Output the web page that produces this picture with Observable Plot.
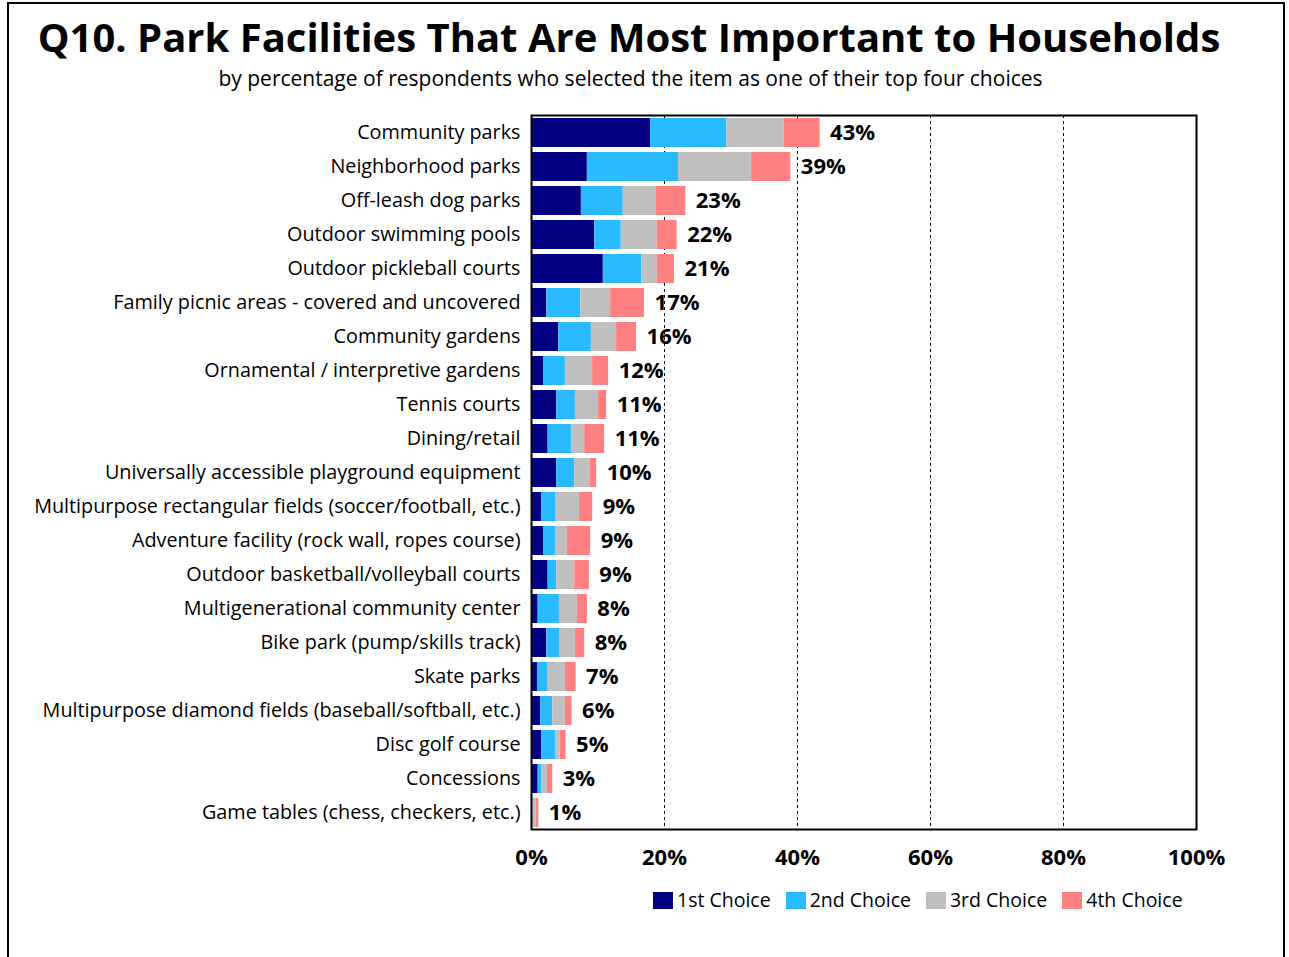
<!DOCTYPE html>
<html>
<head>
<meta charset="utf-8">
<script src="https://cdn.jsdelivr.net/npm/d3@7"></script>
<script src="https://cdn.jsdelivr.net/npm/@observablehq/plot@0.6"></script>
<style>
  html, body { margin: 0; padding: 0; background: #fff; }
  #wrap { position: relative; width: 1289px; height: 957px; overflow: hidden; font-family: "Open Sans", Lato, sans-serif; }
  #border { position: absolute; left: 7px; top: 2px; width: 1278px; height: 1000px; border: 2px solid #000; border-bottom: none; box-sizing: border-box; }
  #title { position: absolute; left: 0; width: 1258px; top: 9px; text-align: center; font-weight: 700; font-size: 40px; line-height: 56px; color: #000; white-space: nowrap; }
  #subtitle { position: absolute; left: 0; width: 1261px; top: 64px; text-align: center; font-size: 21px; line-height: 28px; color: #000; white-space: nowrap; }
  #chart { position: absolute; left: 0; top: 0; }
  #legend { position: absolute; top: 886px; left: 653px; display: flex; align-items: center; font-size: 19.5px; line-height: 28px; color: #000; white-space: nowrap; }
  .item { display: flex; align-items: center; margin-right: 15px; }
  .sw { width: 20px; height: 17px; margin-right: 4px; }
</style>
</head>
<body>
<div id="wrap">
  <div id="border"></div>
  <div id="title">Q10. Park Facilities That Are Most Important to Households</div>
  <div id="subtitle">by percentage of respondents who selected the item as one of their top four choices</div>
  <div id="chart"></div>
  <div id="legend"></div>
</div>
<script>
const facilities = [
  "Community parks",
  "Neighborhood parks",
  "Off-leash dog parks",
  "Outdoor swimming pools",
  "Outdoor pickleball courts",
  "Family picnic areas - covered and uncovered",
  "Community gardens",
  "Ornamental / interpretive gardens",
  "Tennis courts",
  "Dining/retail",
  "Universally accessible playground equipment",
  "Multipurpose rectangular fields (soccer/football, etc.)",
  "Adventure facility (rock wall, ropes course)",
  "Outdoor basketball/volleyball courts",
  "Multigenerational community center",
  "Bike park (pump/skills track)",
  "Skate parks",
  "Multipurpose diamond fields (baseball/softball, etc.)",
  "Disc golf course",
  "Concessions",
  "Game tables (chess, checkers, etc.)"
];
const choices = ["1st Choice", "2nd Choice", "3rd Choice", "4th Choice"];
const colors = ["#000080", "#29BAFF", "#BFBFBF", "#FF8080"];
const first  = [17.9, 8.4, 7.5, 9.5, 10.8, 2.3, 4.1, 1.8, 3.8, 2.5, 3.8, 1.5, 1.8, 2.5, 1.0, 2.3, 0.9, 1.4, 1.5, 1.0, 0.1];
const second = [11.5, 13.7, 6.3, 4.0, 5.8, 5.1, 4.9, 3.3, 2.8, 3.5, 2.7, 2.2, 1.8, 1.3, 3.2, 2.0, 1.5, 1.8, 2.1, 0.5, 0.1];
const third  = [8.6, 11.0, 4.9, 5.4, 2.3, 4.5, 3.8, 4.1, 3.5, 2.0, 2.3, 3.5, 1.8, 2.7, 2.7, 2.3, 2.7, 1.9, 0.7, 0.9, 0.5];
const fourth = [5.4, 5.9, 4.5, 3.0, 2.6, 5.1, 3.0, 2.4, 1.2, 3.0, 1.0, 2.0, 3.5, 2.2, 1.5, 1.4, 1.6, 1.0, 0.9, 0.8, 0.4];
const totalLabels = [43, 39, 23, 22, 21, 17, 16, 12, 11, 11, 10, 9, 9, 9, 8, 8, 7, 6, 5, 3, 1];
const xTicks = [0, 20, 40, 60, 80, 100];
const gridTicks = [20, 40, 60, 80];

const series = [first, second, third, fourth];
const rows = [];
series.forEach((vals, si) => {
  facilities.forEach((f, i) => rows.push({facility: f, choice: choices[si], value: vals[i]}));
});
const totals = facilities.map((f, i) => ({
  facility: f,
  sum: first[i] + second[i] + third[i] + fourth[i],
  label: totalLabels[i] + "%"
}));

const chart = Plot.plot({
  width: 1289,
  height: 900,
  marginLeft: 531,
  marginRight: 93,
  marginTop: 115,
  marginBottom: 71,
  style: {fontFamily: "'Open Sans', Lato, sans-serif", color: "#000", background: "transparent"},
  x: {domain: [0, 100]},
  y: {domain: facilities, paddingInner: 0.15, paddingOuter: 0.075},
  color: {domain: choices, range: colors},
  marks: [
    Plot.ruleX(gridTicks, {stroke: "#000", strokeWidth: 1, strokeDasharray: "3,3"}),
    Plot.barX(rows, Plot.stackX({y: "facility", x: "value", fill: "choice", order: null})),
    Plot.text(totals, {y: "facility", x: "sum", text: "label", dx: 10, textAnchor: "start", fontSize: 22, fontWeight: "bold", fill: "#000"}),
    Plot.axisY({tickSize: 0, tickPadding: 11, fontSize: 19.8, label: null}),
    Plot.axisX({ticks: xTicks, tickFormat: d => d + "%", tickSize: 0, tickPadding: 20, fontSize: 22, fontWeight: "bold", label: null}),
    Plot.frame({stroke: "#000", strokeWidth: 2})
  ]
});
document.getElementById("chart").appendChild(chart);

const legend = document.getElementById("legend");
choices.forEach((c, i) => {
  const item = document.createElement("div");
  item.className = "item";
  const sw = document.createElement("div");
  sw.className = "sw";
  sw.style.background = colors[i];
  item.appendChild(sw);
  const t = document.createElement("span");
  t.textContent = c;
  item.appendChild(t);
  legend.appendChild(item);
});
</script>
</body>
</html>
